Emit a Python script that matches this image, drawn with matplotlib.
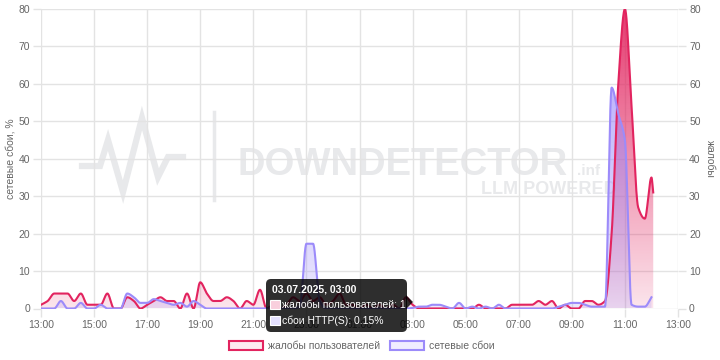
import numpy as np
import pandas as pd
import matplotlib
matplotlib.use("Agg")
import matplotlib.pyplot as plt
import matplotlib.dates as mdates
from matplotlib.colors import to_rgb
from matplotlib.patches import Patch, PathPatch, FancyBboxPatch, Polygon, Rectangle
from matplotlib.transforms import IdentityTransform

plt.rcParams['font.family'] = ['Liberation Sans', 'DejaVu Sans']

# --- data (15-minute steps, 02.07.2025 13:00 .. 03.07.2025 12:00) ---
times = pd.date_range("2025-07-02 13:00", "2025-07-03 12:00", freq="15min")

complaints = [1, 2, 4, 4,  4, 2, 4, 1,  1, 1, 4, 0,  0, 3, 2, 0,
              1, 2, 3, 2,  2, 0, 4, 0,  7, 4, 2, 2,  3, 2, 0, 2,
              1, 5, 0, 1,  0, 1, 3, 2,  4, 2, 3, 1,  2, 4, 1, 1,
              0, 1, 0, 1,  0, 1, 0, 3,  1, 0, 0, 0,  0, 0, 0, 0,
              0, 0, 1, 0,  0, 0, 0, 1,  1, 1, 1, 2,  1, 2, 0, 1,
              0, 0, 2, 2,  1, 2, 20, 60,  80, 54, 27, 24,  35]
complaints_last_time = pd.Timestamp("2025-07-03 12:04")
complaints_last = 31

outages = [0, 0, 0, 2,  0, 0, 1.5, 0,  0, 1, 0, 0,  0, 4, 3, 1.5,
           1.5, 2.5, 2, 1.5,  1, 1.5, 0.5, 2,  1, 0, 0, 0,  0, 0, 0, 0,
           0, 0, 0, 0,  0, 0, 0, 0.5,  17.3, 17.3, 2, 0,  0, 0, 0, 0,
           0, 0, 0, 0,  0, 0, 0, 0,  0.15, 0.5, 0.5, 1,  1, 0.5, 0, 1.5,
           0, 0.5, 0, 0.5,  0, 1, 0, 0,  0, 0, 0, 0,  0, 0, 0.5, 1,
           1.5, 1.5, 1, 0.5,  0.5, 0.5, 59, 52,  45, 1, 0.5, 0.5,  3]

x_start = pd.Timestamp("2025-07-02 13:00")
x_end = pd.Timestamp("2025-07-03 13:00")

PINK = "#e2245f"
PURPLE = "#9c8bfa"
GRID = "#e3e3e3"
TXT = "#666666"


def pchip(x, y, xs):
    x = np.asarray(x, float)
    y = np.asarray(y, float)
    h = np.diff(x)
    d = np.diff(y) / h
    m = np.zeros_like(y)
    m[0], m[-1] = d[0], d[-1]
    for k in range(1, len(y) - 1):
        if d[k - 1] * d[k] > 0:
            w1 = 2 * h[k] + h[k - 1]
            w2 = h[k] + 2 * h[k - 1]
            m[k] = (w1 + w2) / (w1 / d[k - 1] + w2 / d[k])
    idx = np.clip(np.searchsorted(x, xs) - 1, 0, len(x) - 2)
    t = (xs - x[idx]) / h[idx]
    h00 = 2 * t**3 - 3 * t**2 + 1
    h10 = t**3 - 2 * t**2 + t
    h01 = -2 * t**3 + 3 * t**2
    h11 = t**3 - t**2
    return h00 * y[idx] + h10 * h[idx] * m[idx] + h01 * y[idx + 1] + h11 * h[idx] * m[idx + 1]


def smooth(xd, yv):
    xs = np.concatenate([np.linspace(xd[i], xd[i + 1], 25, endpoint=False) for i in range(len(xd) - 1)] + [[xd[-1]]])
    return xs, pchip(xd, yv, xs)


def gradient_fill(ax, xs, ys, color, a_top, a_bot, z):
    poly = ax.fill_between(xs, ys, 0, facecolor="none", edgecolor="none")
    clip = PathPatch(poly.get_paths()[0], transform=ax.transData, facecolor="none", edgecolor="none")
    ax.add_patch(clip)
    grad = np.zeros((256, 1, 4))
    grad[:, 0, :3] = to_rgb(color)
    grad[:, 0, 3] = np.linspace(a_top, a_bot, 256)
    im = ax.imshow(grad, extent=[xs[0], xs[-1], 0, 80], aspect="auto", origin="upper", zorder=z)
    im.set_clip_path(clip)


fig = plt.figure(figsize=(7.2, 3.6), dpi=100)
ax = fig.add_axes([41 / 720, 51.5 / 360, 637 / 720, 299.5 / 360])

xc = mdates.date2num(list(times) + [complaints_last_time])
yc = complaints + [complaints_last]
xo = mdates.date2num(times)

cx, cy = smooth(xc, yc)
ox, oy = smooth(xo, outages)

gradient_fill(ax, cx, cy, PINK, 0.9, 0.12, 2)
gradient_fill(ax, ox, oy, PURPLE, 0.8, 0.2, 3)
ax.plot(cx, cy, color=PINK, lw=1.5, zorder=4)
ax.plot(ox, oy, color=PURPLE, lw=1.5, zorder=5)

ax.set_xlim(mdates.date2num(x_start), mdates.date2num(x_end))
ax.set_ylim(0, 80)
ax.set_yticks(range(0, 81, 10))
ax.xaxis.set_major_locator(mdates.HourLocator(byhour=range(1, 24, 2)))
ax.xaxis.set_major_formatter(mdates.DateFormatter("%H:%M"))
ax.set_axisbelow(True)
ax.grid(True, color=GRID, lw=1)
for s in ax.spines.values():
    s.set_visible(False)
ax.tick_params(colors=GRID, labelcolor=TXT, labelsize=7.5, length=6, width=1, pad=2)
ax.set_ylabel("сетевые сбои, %", color=TXT, fontsize=7.5, labelpad=2)

ax2 = ax.twinx()
ax2.set_ylim(0, 80)
ax2.set_yticks(range(0, 81, 10))
for s in ax2.spines.values():
    s.set_visible(False)
ax2.tick_params(colors=GRID, labelcolor=TXT, labelsize=7.5, length=6, width=1, pad=2)
ax2.set_ylabel("жалобы", color=TXT, fontsize=7.5, rotation=270, labelpad=10)

# --- watermark ---
WM = "#e8e9eb"
pix = IdentityTransform()


def px(x, y):
    return x, 360 - y


logo = [(82, 166), (100, 166), (108, 140), (123, 192), (142, 118), (158, 177), (168, 157), (183, 157)]
ax.plot([px(*p)[0] for p in logo], [px(*p)[1] for p in logo], color=WM, lw=4.5,
        transform=pix, zorder=0.2, solid_joinstyle="miter", clip_on=False)
ax.plot([214, 214], [360 - 112, 360 - 200], color=WM, lw=2.5, transform=pix, zorder=0.2, clip_on=False)
ax.text(*px(238, 175), "DOWNDETECTOR", transform=pix, fontsize=27.5, fontweight="bold",
        color=WM, va="baseline", ha="left", zorder=0.2)
ax.text(*px(577, 175), ".inf", transform=pix, fontsize=11, fontweight="bold",
        color=WM, va="baseline", ha="left", zorder=0.2)
ax.text(*px(481, 194), "LLM POWERED", transform=pix, fontsize=13, fontweight="bold",
        color=WM, va="baseline", ha="left", zorder=0.2)

# --- tooltip ---
box = FancyBboxPatch(px(266, 332), 141, 53, boxstyle="round,pad=0,rounding_size=5",
                     transform=pix, facecolor=(0, 0, 0, 0.82), edgecolor="none", zorder=20)
fig.add_artist(box)
fig.add_artist(Polygon([px(406, 295), px(413, 302), px(406, 309)], closed=True,
                       transform=pix, facecolor=(0, 0, 0, 0.82), edgecolor="none", zorder=20))
fig.text(*px(272, 290), "03.07.2025, 03:00", transform=pix, color="white", fontsize=7.5,
         fontweight="bold", va="center", ha="left", zorder=21)
fig.add_artist(Rectangle(px(270, 309), 10, 9, transform=pix, facecolor="#f9cfdd",
                         edgecolor="white", lw=0.8, zorder=21))
fig.add_artist(Rectangle(px(270, 325), 10, 9, transform=pix, facecolor="#e4e0ff",
                         edgecolor="white", lw=0.8, zorder=21))
fig.text(*px(282, 305), "жалобы пользователей: 1", transform=pix, color="white", fontsize=7.5,
         va="center", ha="left", zorder=21)
fig.text(*px(282, 321), "сбои HTTP(S): 0.15%", transform=pix, color="white", fontsize=7.5,
         va="center", ha="left", zorder=21)

# --- legend ---
handles = [Patch(facecolor="#fde9f0", edgecolor=PINK, lw=1.5, label="жалобы пользователей"),
           Patch(facecolor="#f0edff", edgecolor=PURPLE, lw=1.5, label="сетевые сбои")]
leg = fig.legend(handles=handles, loc="center", bbox_to_anchor=(362 / 720, 14 / 360), ncol=2,
                 frameon=False, fontsize=7.5, handlelength=3.2, handleheight=1.0,
                 handletextpad=0.5, columnspacing=1.0)
for t in leg.get_texts():
    t.set_color(TXT)

fig.savefig("out.png", dpi=100)
